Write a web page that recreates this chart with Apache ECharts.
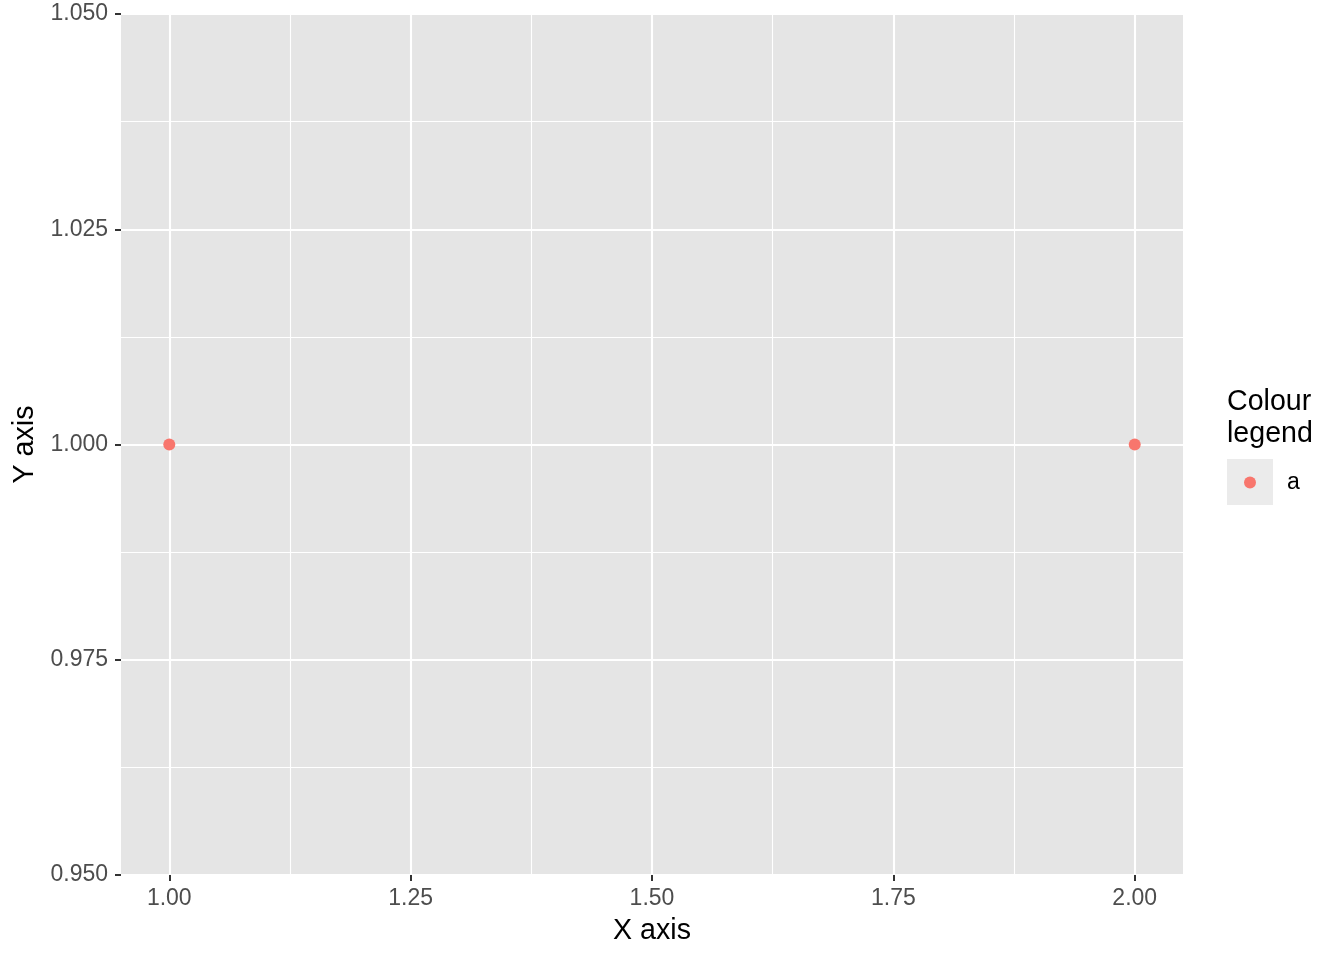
<!DOCTYPE html>
<html>
<head>
<meta charset="utf-8">
<script src="https://cdn.jsdelivr.net/npm/echarts@6/dist/echarts.min.js"></script>
<style>
html,body{margin:0;padding:0;background:#fff;}
#chart{width:1344px;height:960px;}
</style>
</head>
<body>
<div id="chart"></div>
<script>
// Data
const seriesName = 'a';
const xValues = [1, 2];
const yValues = [1, 1];
const xTicks = [1.00, 1.25, 1.50, 1.75, 2.00];
const yTicks = [0.950, 0.975, 1.000, 1.025, 1.050];
const xTitle = 'X axis';
const yTitle = 'Y axis';
const legendTitle = 'Colour\nlegend';

const FONT = '"Liberation Sans", Arial, Helvetica, sans-serif';
const panelBg = '#E5E5E5';
const pointColor = '#F8766D';
const TICK_FS = 23;
const TITLE_FS = 28.6;

// gridline colour cycles (helper axes)
const W = '#FFFFFF', T = 'rgba(0,0,0,0)';
const xMajorCols = [T,T,W,T,T,T,T,T,T,T];
const xMinorCols = [T,T,T,T,T,T,T,W,T,T];
const yMajorCols = [W,T];
const yMinorCols = [T,W];

const chart = echarts.init(document.getElementById('chart'), null, {renderer:'canvas'});

function helperAxis(min, max, interval, cols, width, pos) {
  return {
    type:'value', gridIndex:0, min:min, max:max, interval:interval, position:pos,
    axisLine:{show:false}, axisTick:{show:false}, axisLabel:{show:false},
    splitLine:{show:true, showMinLine:true, showMaxLine:true, lineStyle:{color:cols, width:width}},
    silent:true
  };
}

const option = {
  backgroundColor:'#FFFFFF',
  animation:false,
  textStyle:{fontFamily:FONT},
  grid:{left:121, top:14, width:1062, height:861, containLabel:false, outerBoundsMode:'none',
        show:true, backgroundColor:panelBg, borderWidth:0},
  xAxis:[
    {
      type:'value', gridIndex:0, min:0.95, max:2.05, position:'bottom',
      name:xTitle, nameLocation:'middle', nameGap:42,
      nameTextStyle:{fontSize:TITLE_FS, color:'#000000', fontFamily:FONT},
      axisLine:{show:false},
      axisTick:{show:true, customValues:xTicks, length:6, lineStyle:{color:'#333333', width:2}},
      axisLabel:{show:true, customValues:xTicks, margin:12, fontSize:TICK_FS, color:'#4D4D4D', fontFamily:FONT,
                 formatter:function(v){return v.toFixed(2);}},
      splitLine:{show:false}
    },
    helperAxis(0.95, 2.05, 0.025, xMinorCols, 1.1, 'bottom'),
    helperAxis(0.95, 2.05, 0.025, xMajorCols, 2.1, 'bottom')
  ],
  yAxis:[
    {
      type:'value', gridIndex:0, min:0.95, max:1.05, position:'left',
      name:yTitle, nameLocation:'middle', nameGap:80, nameRotate:90,
      nameTextStyle:{fontSize:TITLE_FS, color:'#000000', fontFamily:FONT},
      axisLine:{show:false},
      axisTick:{show:true, customValues:yTicks, length:6, lineStyle:{color:'#333333', width:2}},
      axisLabel:{show:true, customValues:yTicks, margin:13, fontSize:TICK_FS, color:'#4D4D4D', fontFamily:FONT,
                 padding:[4,0,0,0],
                 formatter:function(v){return v.toFixed(3);}},
      splitLine:{show:false}
    },
    helperAxis(0.95, 1.05, 0.0125, yMinorCols, 1.1, 'left'),
    helperAxis(0.95, 1.05, 0.0125, yMajorCols, 2.1, 'left')
  ],
  legend:{
    show:true, data:[seriesName], left:1244, top:471, orient:'vertical',
    icon:'circle', itemWidth:12, itemHeight:12, padding:0,
    selectedMode:false,
    textStyle:{fontSize:TICK_FS, color:'#000000', fontFamily:FONT, padding:[3,0,0,26]}
  },
  graphic:[
    {type:'rect', z:-1, shape:{x:1227, y:459, width:46, height:46}, style:{fill:'#EBEBEB'}, silent:true},
    {type:'text', left:1227, top:386, style:{text:legendTitle, font:TITLE_FS + 'px ' + FONT, fill:'#000000', lineHeight:32}}
  ],
  series:[
    {
      name:seriesName, type:'scatter', xAxisIndex:0, yAxisIndex:0,
      data:xValues.map(function(x,i){return [x, yValues[i]];}),
      symbol:'circle', symbolSize:12,
      itemStyle:{color:pointColor, opacity:1},
      z:5
    }
  ]
};
chart.setOption(option);
</script>
</body>
</html>
